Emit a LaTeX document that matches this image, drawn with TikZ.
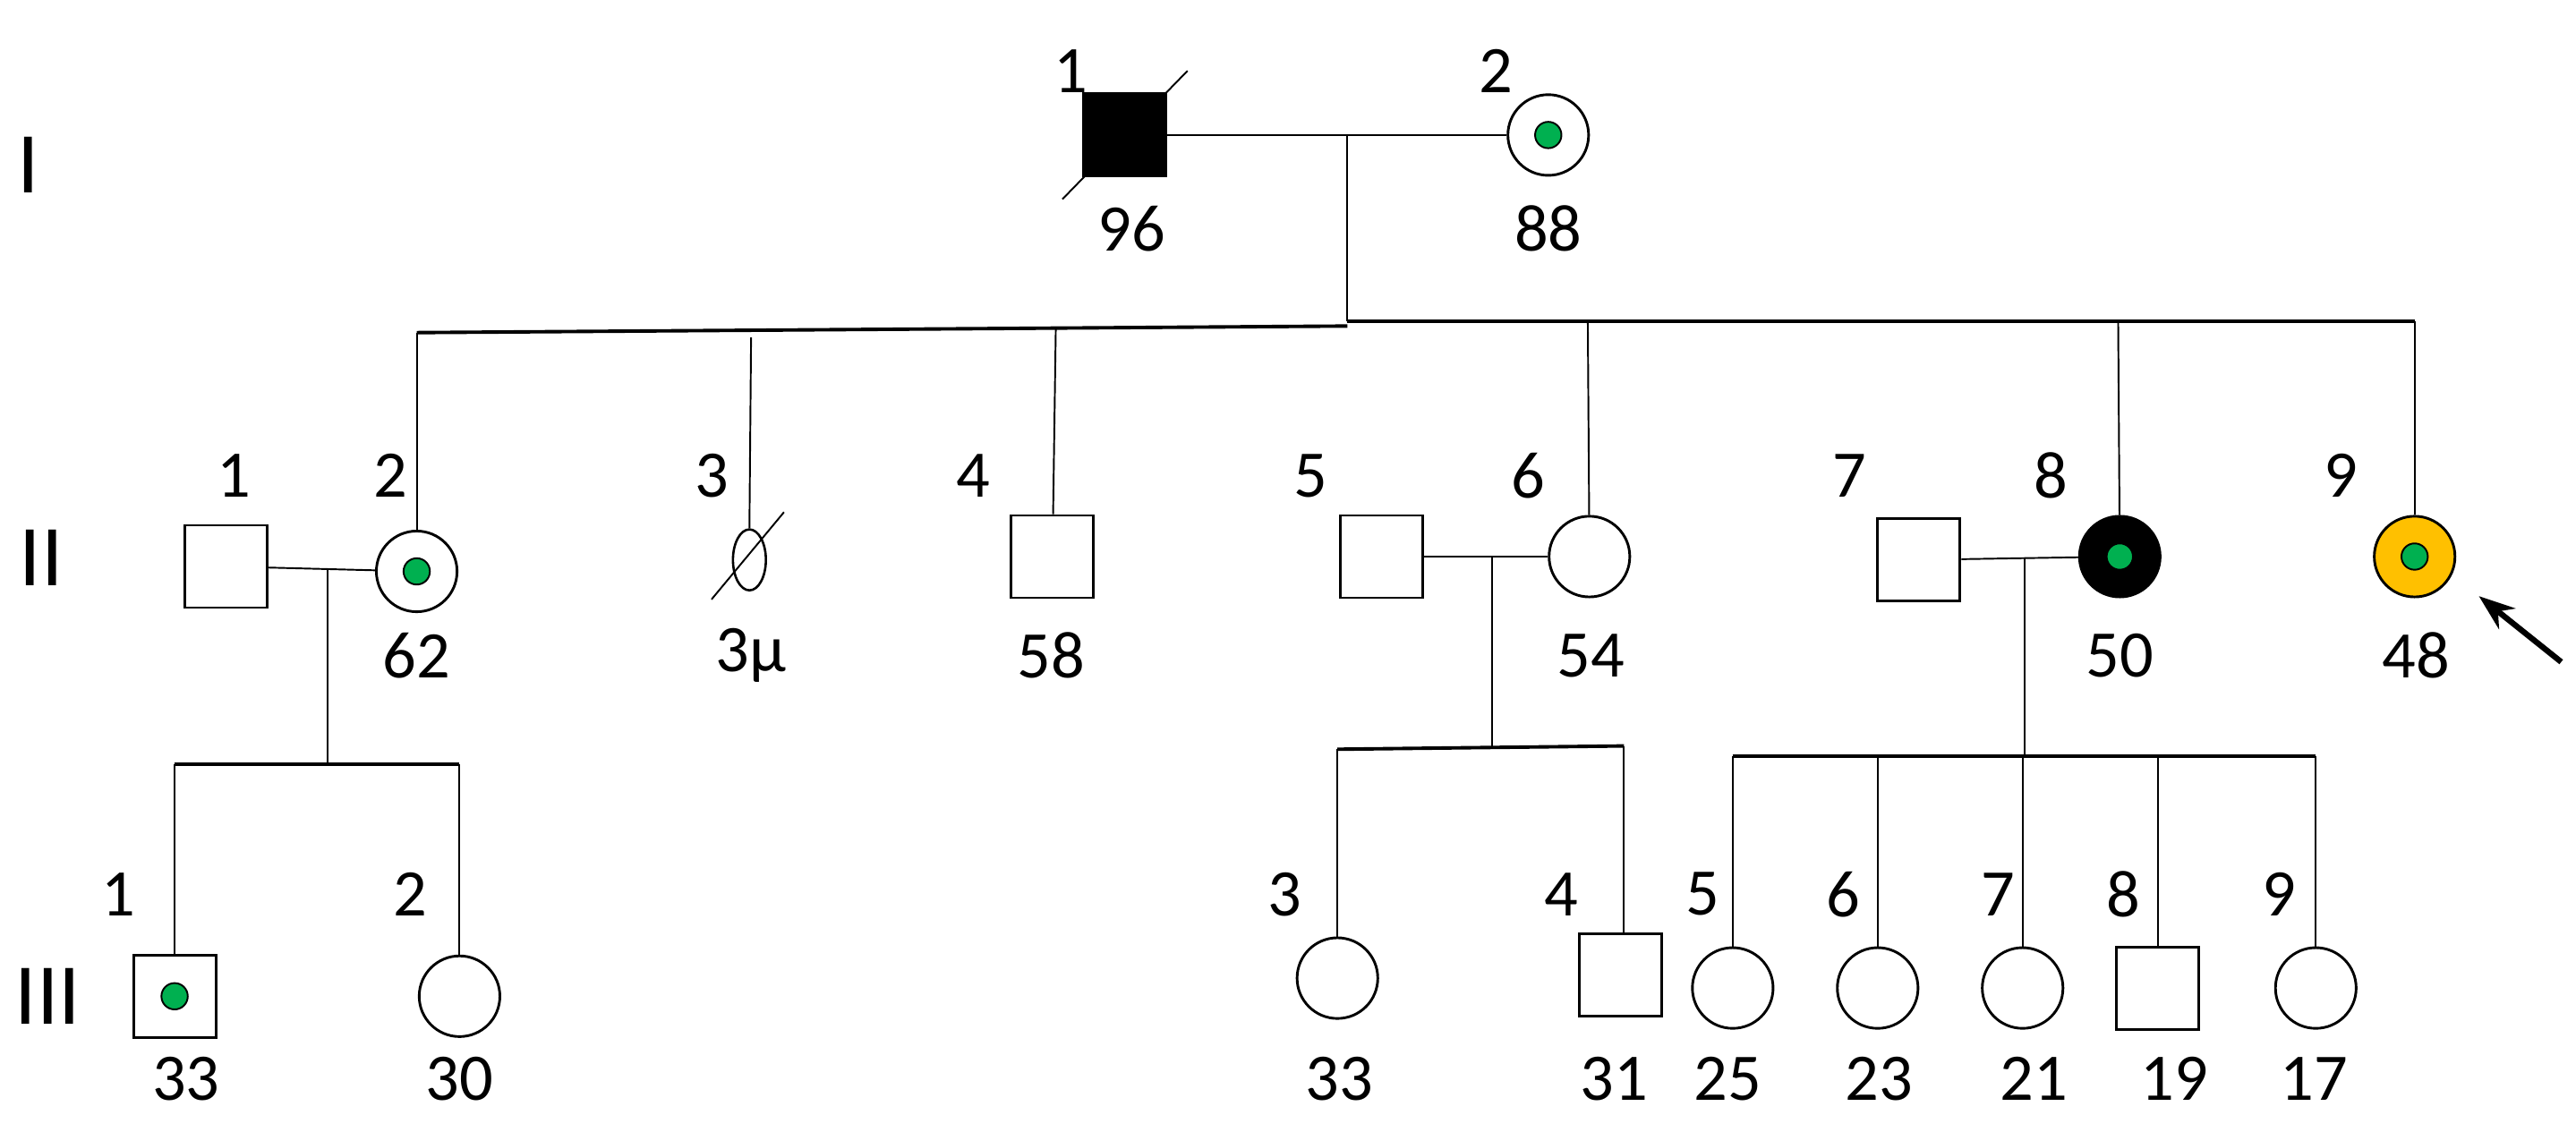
\documentclass[tikz,border=0pt]{standalone}
\usepackage{fontspec}
\setmainfont{Carlito}
\usetikzlibrary{arrows.meta}
\usetikzlibrary{shapes.geometric}
\definecolor{carrier}{RGB}{0,176,80}
\definecolor{proband}{RGB}{255,192,0}
\tikzstyle{male} = [rectangle, draw=black, line width=0.45pt, minimum size=5mm, inner sep=0pt, fill=white]
\tikzstyle{female} = [circle, draw=black, line width=0.45pt, minimum size=4.9mm, inner sep=0pt, fill=white]
\tikzstyle{dot} = [circle, draw=black, line width=0.3pt, fill=carrier, minimum size=1.6mm, inner sep=0pt]
\tikzstyle{num} = [font=\fontsize{11.5}{12}\selectfont, inner sep=0pt]
\tikzstyle{gen} = [font=\fontsize{15}{16}\selectfont, inner sep=0pt]
\tikzstyle{line} = [line width=0.3pt]
\tikzstyle{sib} = [line width=0.6pt]

\begin{document}
\begin{tikzpicture}[x=0.1mm,y=-0.1mm]
\useasboundingbox (0,0) rectangle (1564,687);
% generations
\node (g1) [gen] at (17,100) {I};
\node (g2) [gen] at (25,339) {II};
\node (g3) [gen] at (29,605) {III};
% generation I
\node (i1) [male, fill=black] at (683,82) {};
\node (i2) [female] at (940,82) {};
\node (d-i2) [dot] at (i2) {};
\draw [line] (645,121) -- (721,43);
\node (n-i1) [num] at (650,43) {1};
\node (n-i2) [num] at (908,43) {2};
\node (a-i1) [num] at (687,139) {96};
\node (a-i2) [num] at (940,139) {88};
\coordinate (m1) at (818,82);
\coordinate (s1) at (818,195);
\coordinate (s1l) at (818,198);
\draw [line] (i1) -- (i2);
\draw [line] (m1) -- (s1);
\draw [sib] (s1l) -- (253,202);
\draw [sib] (s1) -- (1466,195);
% generation II
\node (ii1) [male] at (137,344) {};
\node (ii2) [female] at (253,347) {};
\node (d-ii2) [dot] at (ii2) {};
\node (ii3) [ellipse, draw=black, line width=0.4pt, minimum width=2mm, minimum height=3.7mm, inner sep=0pt] at (455,340) {};
\draw [line] (432,364) -- (476,311);
\node (ii4) [male] at (639,338) {};
\node (ii5) [male] at (839,338) {};
\node (ii6) [female] at (965,338) {};
\node (ii7) [male] at (1165,340) {};
\node (ii8) [female, fill=black] at (1287,338) {};
\node (d-ii8) [dot] at (ii8) {};
\node (ii9) [female, fill=proband] at (1466,338) {};
\node (d-ii9) [dot] at (ii9) {};
\draw [line] (253,202) -- (ii2);
\draw [line] (456,205) -- (ii3.north);
\draw [line] (641,200) -- (ii4);
\draw [line] (964,195) -- (ii6);
\draw [line] (1286,195) -- (ii8);
\draw [line] (1466,195) -- (ii9);
\foreach \x/\n in {142/1,237/2,432/3,591/4,796/5,928/6,1123/7,1245/8,1421/9}
  \node (n-ii\n) [num] at (\x,289) {\n};
\node (a-ii2) [num] at (253,398) {62};
\node (a-ii3) [num] at (456,398) {3\textmu};
\node (a-ii4) [num] at (638,398) {58};
\node (a-ii6) [num] at (966,398) {54};
\node (a-ii8) [num] at (1287,398) {50};
\node (a-ii9) [num] at (1467,398) {48};
\coordinate (arr) at (1555,402);
\coordinate (tip) at (1505,362);
\draw [line width=1pt, -{Stealth[length=2.2mm,width=1.6mm]}] (arr) -- (tip);
% generation III
\draw [line] (ii1) -- (ii2);
\draw [line] (ii5) -- (ii6);
\draw [line] (ii7) -- (ii8);
\draw [line] (199,346) -- (199,464);
\draw [line] (906,338) -- (906,454);
\draw [line] (1229,339) -- (1229,459);
\draw [sib] (106,464) -- (279,464);
\draw [sib] (812,455) -- (986,453);
\draw [sib] (1052,459) -- (1406,459);
\node (iii1) [male] at (106,605) {};
\node (d-iii1) [dot] at (iii1) {};
\node (iii2) [female] at (279,605) {};
\node (iii3) [female] at (812,594) {};
\node (iii4) [male] at (984,592) {};
\node (iii5) [female] at (1052,600) {};
\node (iii6) [female] at (1140,600) {};
\node (iii7) [female] at (1228,600) {};
\node (iii8) [male] at (1310,600) {};
\node (iii9) [female] at (1406,600) {};
\draw [line] (106,464) -- (iii1);
\draw [line] (279,464) -- (iii2);
\draw [line] (812,455) -- (iii3);
\draw [line] (986,453) -- (986,567);
\foreach \x/\n in {1052/5,1140/6,1228/7,1310/8,1406/9}
  \draw [line] (\x,459) -- (iii\n);
\foreach \x/\n in {72/1,249/2,780/3,948/4,1034/5,1119/6,1213/7,1289/8,1384/9}
  \node (n-iii\n) [num] at (\x,543) {\n};
\foreach \x/\a/\n in {113/33/1,279/30/2,813/33/3,980/31/4,1049/25/5,1141/23/6,1235/21/7,1320/19/8,1405/17/9}
  \node (a-iii\n) [num] at (\x,655) {\a};
\end{tikzpicture}
\end{document}
